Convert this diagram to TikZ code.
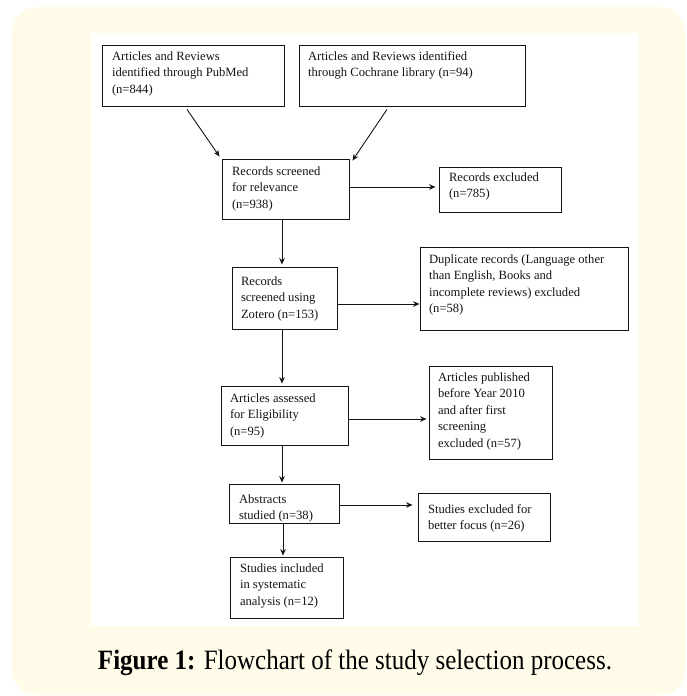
\documentclass[tikz,border=0pt]{standalone}
\usepackage{fontspec}
\setmainfont{Liberation Serif}
\usetikzlibrary{arrows.meta}
\definecolor{cream}{RGB}{255,251,232}
\definecolor{ink}{RGB}{20,20,20}
\newcommand\flowbox[8]{%
  \pgfmathsetmacro\fbW{#4-#2}\pgfmathsetmacro\fbH{#5-#3}%
  \pgfmathsetmacro\fbX{(#2+#4)/2}\pgfmathsetmacro\fbY{(#3+#5)/2}%
  \pgfmathsetmacro\fbTW{#4-#2-2*#6}\pgfmathsetmacro\fbD{#7-11.55}%
  \node[fbx, minimum width=\fbW pt, minimum height=\fbH pt] (#1) at (\fbX,\fbY)
    {\parbox[c][\fbH pt][t]{\fbTW pt}{\vspace*{\fbD pt}\noindent\begin{tabular}{@{}l@{}}#8\end{tabular}}};}
\begin{document}
\begin{tikzpicture}[x=1pt,y=-1pt,
  fbx/.style={draw=ink, line width=0.9pt, inner sep=0pt, font=\fontsize{12.6}{16.5}\selectfont, text=ink},
  arr/.style={draw=ink, line width=0.9pt, -{Stealth[length=6.5pt,width=5.5pt]}},
  capt/.style={font=\fontsize{25}{30}\selectfont, text=black, inner sep=0pt}]
\useasboundingbox (0,0) rectangle (687,696);
\fill[cream, rounded corners=25pt] (12,7) rectangle (685,695);
\fill[white] (91,33) rectangle (639,626);

\flowbox{b1}{102}{45}{284}{106}{10}{15}{Articles and Reviews\\identified through PubMed\\(n=844)}
\flowbox{b2}{299}{45}{525}{106}{9}{15}{Articles and Reviews identified\\through Cochrane library (n=94)}
\flowbox{b3}{222}{159}{349}{219}{10}{16}{Records screened\\for relevance\\(n=938)}
\flowbox{b4}{439}{167}{561}{212}{10}{14}{Records excluded\\(n=785)}
\flowbox{b5}{232}{267}{337}{329}{9}{18}{Records\\screened using\\Zotero (n=153)}
\flowbox{b6}{420}{247}{628}{330}{9}{16}{Duplicate records (Language other\\than English, Books and\\incomplete reviews) excluded\\(n=58)}
\flowbox{b7}{221}{386}{348}{445}{9}{16}{Articles assessed\\for Eligibility\\(n=95)}
\flowbox{b8}{429}{366}{552}{459}{9}{15}{Articles published\\before Year 2010\\and after first\\screening\\excluded (n=57)}
\flowbox{b9}{229}{484}{339}{523}{10}{19}{Abstracts\\studied (n=38)}
\flowbox{b10}{418}{493}{550}{541}{10}{20}{Studies excluded for\\better focus (n=26)}
\flowbox{b11}{230}{557}{343}{618}{10}{15}{Studies included\\in systematic\\analysis (n=12)}

\coordinate (spine) at (282,0);
\coordinate (h1) at (0,187);
\coordinate (h2) at (0,304);
\coordinate (h3) at (0,419);
\coordinate (h4) at (0,505);

\draw[arr] ([xshift=-6pt,yshift=-3pt]b1.south) -- ([xshift=-2pt,yshift=2pt]b3.north west);
\draw[arr] ([xshift=-25pt,yshift=-3pt]b2.south) -- ([xshift=3pt,yshift=-2pt]b3.north east);
\draw[arr, shorten >=3pt] (b3.east |- h1) -- (b4.west |- h1);
\draw[arr, shorten >=2pt] (b3.south -| spine) -- (b5.north -| spine);
\draw[arr] (b5.east |- h2) -- (b6.west |- h2);
\draw[arr, shorten >=2pt] (b5.south -| spine) -- (b7.north -| spine);
\draw[arr, shorten >=2pt] (b7.east |- h3) -- (b8.west |- h3);
\draw[arr, shorten >=1pt] (b7.south -| spine) -- (b9.north -| spine);
\draw[arr, shorten >=5pt] (b9.east |- h4) -- (b10.west |- h4);
\draw[arr, shorten >=1pt] ([xshift=1pt]b9.south -| spine) -- ([xshift=1pt]b11.north -| spine);

\node[capt, anchor=base] (cap) at (355,669) {\scalebox{1}[1.12]{\textbf{Figure 1:} Flowchart of the study selection process.}};
\end{tikzpicture}
\end{document}
